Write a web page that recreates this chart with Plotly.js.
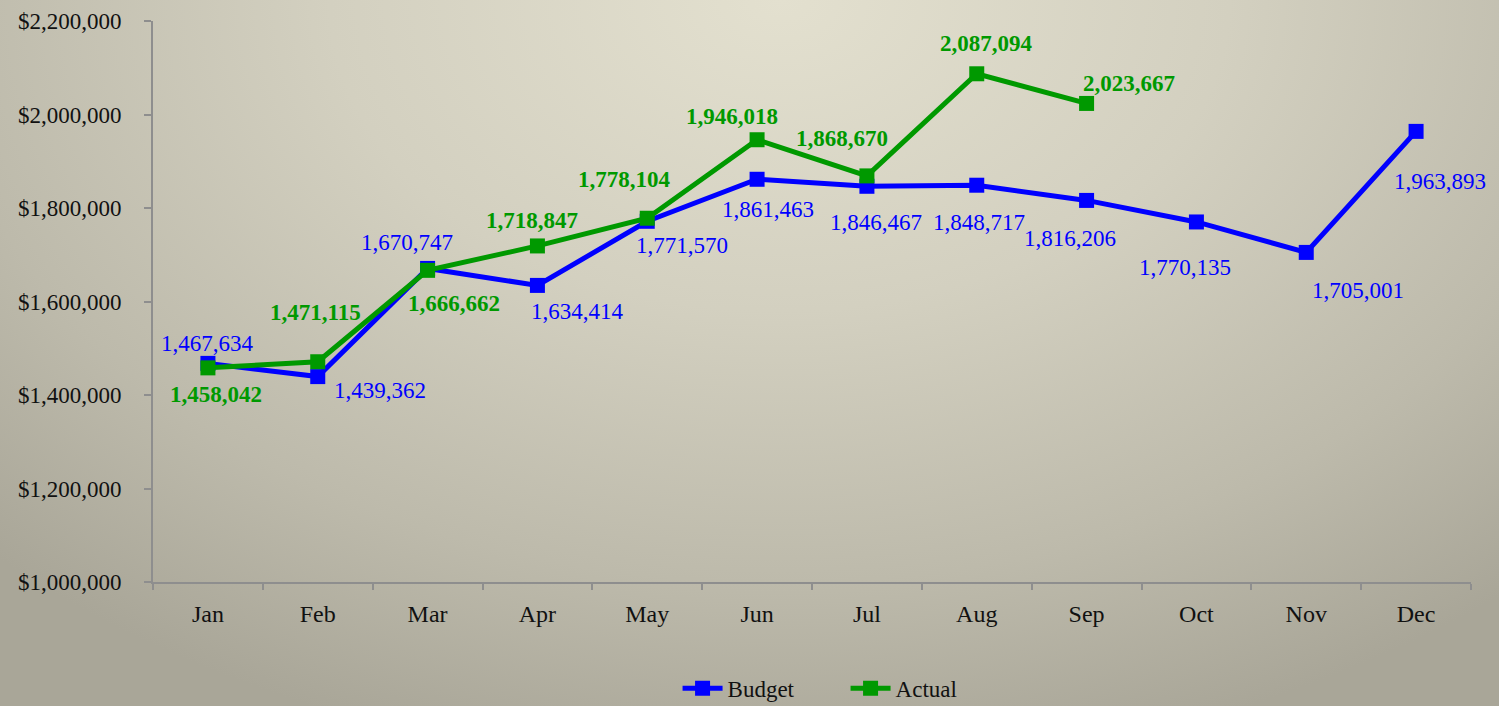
<!DOCTYPE html>
<html>
<head>
<meta charset="utf-8">
<script src="https://cdn.plot.ly/plotly-3.0.1.min.js"></script>
<style>
  html, body { margin: 0; padding: 0; }
  body {
    width: 1499px; height: 706px; overflow: hidden;
    background: radial-gradient(ellipse 75% 110% at 52% 0%, #e3e0cf 0%, #d3d0c0 40%, #bdbaab 75%, #a9a698 100%);
  }
  #chart { width: 1499px; height: 706px; }
</style>
</head>
<body>
<div id="chart"></div>
<script>
const months = ["Jan","Feb","Mar","Apr","May","Jun","Jul","Aug","Sep","Oct","Nov","Dec"];
const budget = [1467634, 1439362, 1670747, 1634414, 1771570, 1861463, 1846467, 1848717, 1816206, 1770135, 1705001, 1963893];
const actual = [1458042, 1471115, 1666662, 1718847, 1778104, 1946018, 1868670, 2087094, 2023667];
const yTicks = [1000000, 1200000, 1400000, 1600000, 1800000, 2000000, 2200000];
const yTickText = ["$1,000,000", "$1,200,000", "$1,400,000", "$1,600,000", "$1,800,000", "$2,000,000", "$2,200,000"];

// label offsets (pixels) relative to each point
const budgetDx = [0, 62, -21, 40, 35, 11, 9, 2, -17, -11, 52, 24];
const budgetDy = [-20, 14, -26, 26, 24, 30, 36, 37, 38, 46, 38, 50];
const actualDx = [8, -2, 26, -5, -23, -25, -25, 10, 42];
const actualDy = [27, -49, 33, -25, -39, -23, -37, -30, -20];

const BLUE = "#0000ff", GREEN = "#009900";
const fmt = v => v.toLocaleString("en-US");
const FONT = "'Liberation Serif', 'DejaVu Serif', serif";

const annotations = [];
budget.forEach((v, i) => annotations.push({
  x: months[i], y: v, xref: "x", yref: "y", text: fmt(v), showarrow: false,
  xshift: budgetDx[i], yshift: -budgetDy[i],
  font: { family: FONT, size: 23, color: BLUE }
}));
actual.forEach((v, i) => annotations.push({
  x: months[i], y: v, xref: "x", yref: "y", text: "<b>" + fmt(v) + "</b>", showarrow: false,
  xshift: actualDx[i], yshift: -actualDy[i],
  font: { family: FONT, size: 23, color: GREEN }
}));

const traces = [
  { type: "scatter", mode: "lines+markers", name: "Budget", x: months, y: budget,
    line: { color: BLUE, width: 5 }, marker: { symbol: "square", size: 15, color: BLUE } },
  { type: "scatter", mode: "lines+markers", name: "Actual", x: months.slice(0, actual.length), y: actual,
    line: { color: GREEN, width: 5 }, marker: { symbol: "square", size: 15, color: GREEN } }
];

const axisColor = "#8e8e8e";
const layout = {
  width: 1499, height: 706,
  paper_bgcolor: "rgba(0,0,0,0)", plot_bgcolor: "rgba(0,0,0,0)",
  margin: { l: 153, r: 28, t: 21, b: 124 },
  font: { family: FONT, size: 23, color: "#111" },
  showlegend: true,
  legend: { orientation: "h", xref: "paper", x: 0.398, xanchor: "left",
            yref: "container", y: 0.025, yanchor: "middle",
            itemwidth: 40, entrywidth: 113, entrywidthmode: "pixels",
            font: { family: FONT, size: 23, color: "#111" }, bgcolor: "rgba(0,0,0,0)", traceorder: "normal" },
  xaxis: {
    type: "category", range: [-0.5, 11.5], tickson: "boundaries", automargin: false,
    showline: true, linecolor: axisColor, linewidth: 2,
    ticks: "outside", ticklen: 6, tickcolor: axisColor, tickwidth: 2,
    showgrid: false, zeroline: false, ticklabelstandoff: 9,
    tickfont: { family: FONT, size: 24, color: "#111" }, fixedrange: true
  },
  yaxis: {
    range: [1000000, 2200000], tickmode: "array", tickvals: yTicks, ticktext: yTickText, automargin: false,
    showline: true, linecolor: axisColor, linewidth: 2,
    ticks: "outside", ticklen: 7, tickcolor: axisColor, tickwidth: 2,
    showgrid: false, zeroline: false, ticklabelstandoff: 18,
    tickfont: { family: FONT, size: 23, color: "#111" }, fixedrange: true
  },
  annotations: annotations
};

Plotly.newPlot("chart", traces, layout, { displayModeBar: false, staticPlot: true });
</script>
</body>
</html>
